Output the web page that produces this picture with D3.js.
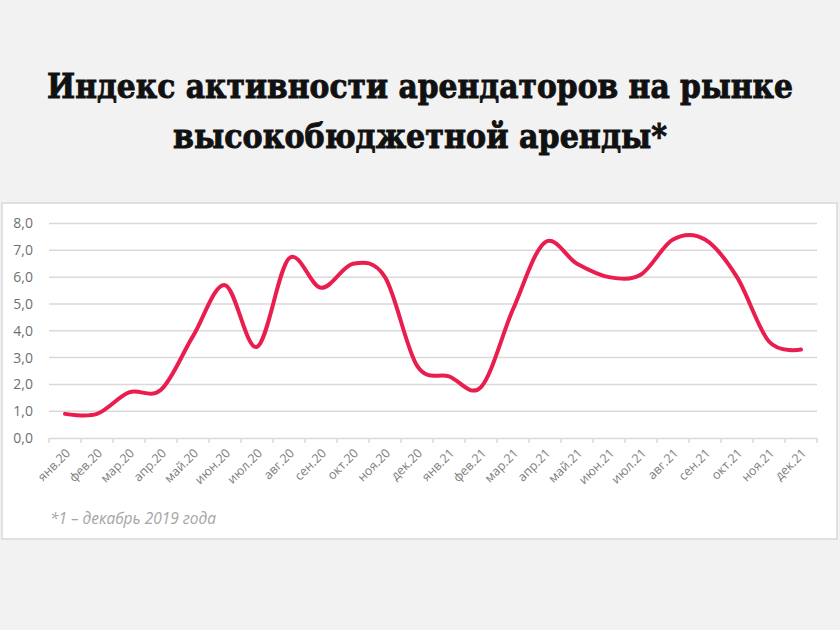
<!DOCTYPE html>
<html><head><meta charset="utf-8">
<script src="https://cdn.jsdelivr.net/npm/d3@7"></script>
<style>
html,body{margin:0;padding:0;background:#f2f2f2;}
svg{display:block;}
</style></head>
<body>
<script>
const titleLines = ["Индекс активности арендаторов на рынке", "высокобюджетной аренды*"];
const categories = ["янв.20","фев.20","мар.20","апр.20","май.20","июн.20","июл.20","авг.20","сен.20","окт.20","ноя.20","дек.20",
  "янв.21","фев.21","мар.21","апр.21","май.21","июн.21","июл.21","авг.21","сен.21","окт.21","ноя.21","дек.21"];
const values = [0.9,0.9,1.7,1.8,3.8,5.7,3.4,6.7,5.6,6.5,6.0,2.7,2.3,1.9,4.8,7.3,6.5,6.0,6.1,7.4,7.4,6.0,3.6,3.3];
const yTicks = [0,1,2,3,4,5,6,7,8];
const footnote = "*1 – декабрь 2019 года";

const W = 840, H = 630;
const svg = d3.select("body").append("svg").attr("width", W).attr("height", H);
svg.append("rect").attr("width", W).attr("height", H).attr("fill", "#f2f2f2");

// title
const tw = [746, 494];
svg.selectAll("text.title").data(titleLines).join("text")
  .attr("class","title")
  .attr("x", 420).attr("y", (d,i)=> i===0 ? 98 : 148)
  .attr("text-anchor","middle")
  .attr("font-family","'DejaVu Serif', 'Liberation Serif', serif")
  .attr("font-weight","bold")
  .attr("font-size", 33)
  .attr("fill","#111")
  .attr("stroke","#111").attr("stroke-width",0.9)
  .attr("textLength",(d,i)=>tw[i])
  .attr("lengthAdjust","spacingAndGlyphs")
  .text(d=>d);

// panel
svg.append("rect").attr("x",2).attr("y",203).attr("width",835).attr("height",336)
  .attr("fill","#fff").attr("stroke","#d9d9d9").attr("stroke-width",1.5);

const x = d3.scaleBand().domain(categories).range([49, 817]).paddingInner(0).paddingOuter(0);
const y = d3.scaleLinear().domain([0,8]).range([438, 223.5]);

// gridlines
svg.append("g").selectAll("line").data(yTicks.filter(d=>d>0)).join("line")
  .attr("x1",49).attr("x2",817).attr("y1",d=>y(d)).attr("y2",d=>y(d))
  .attr("stroke","#d9d9d9").attr("stroke-width",1.5);

// y axis labels
const yAxis = d3.axisLeft(y).tickValues(yTicks).tickSize(0).tickPadding(0)
  .tickFormat(d=>d3.format(".1f")(d).replace(".",","));
const gy = svg.append("g").attr("transform","translate(33,0)").call(yAxis);
gy.select(".domain").remove();
gy.selectAll("text").attr("font-family","'Open Sans', sans-serif").attr("font-size",14).attr("fill","#707070");

// x axis
const xAxis = d3.axisBottom(x).tickSize(0).tickFormat(d=>d);
const gx = svg.append("g").attr("transform","translate(0,438)").call(xAxis);
gx.select(".domain").attr("stroke","#d9d9d9").attr("stroke-width",1.5);
const bounds = categories.map(c=>x(c)).concat([x(categories[categories.length-1])+x.bandwidth()]);
gx.append("g").selectAll("line").data(bounds).join("line")
  .attr("x1",d=>d).attr("x2",d=>d).attr("y1",0).attr("y2",5)
  .attr("stroke","#d9d9d9").attr("stroke-width",1.5);
gx.selectAll(".tick text")
  .attr("font-family","'Open Sans', sans-serif").attr("font-size",12.5).attr("fill","#808080")
  .attr("text-anchor","end").attr("dy",0).attr("y",0)
  .attr("transform","translate(6,16) rotate(-45)");

// line
const line = d3.line().x((d,i)=>x(categories[i])+x.bandwidth()/2).y(d=>y(d)).curve(d3.curveCardinal.tension(0));
svg.append("path").datum(values).attr("d",line)
  .attr("fill","none").attr("stroke","#e91e4f").attr("stroke-width",4).attr("stroke-linecap","round");

// footnote
svg.append("text").attr("x",50).attr("y",524)
  .attr("font-family","'Open Sans', sans-serif").attr("font-style","italic")
  .attr("font-size",15.5).attr("fill","#a6a6a6").text(footnote);
</script>
</body></html>
